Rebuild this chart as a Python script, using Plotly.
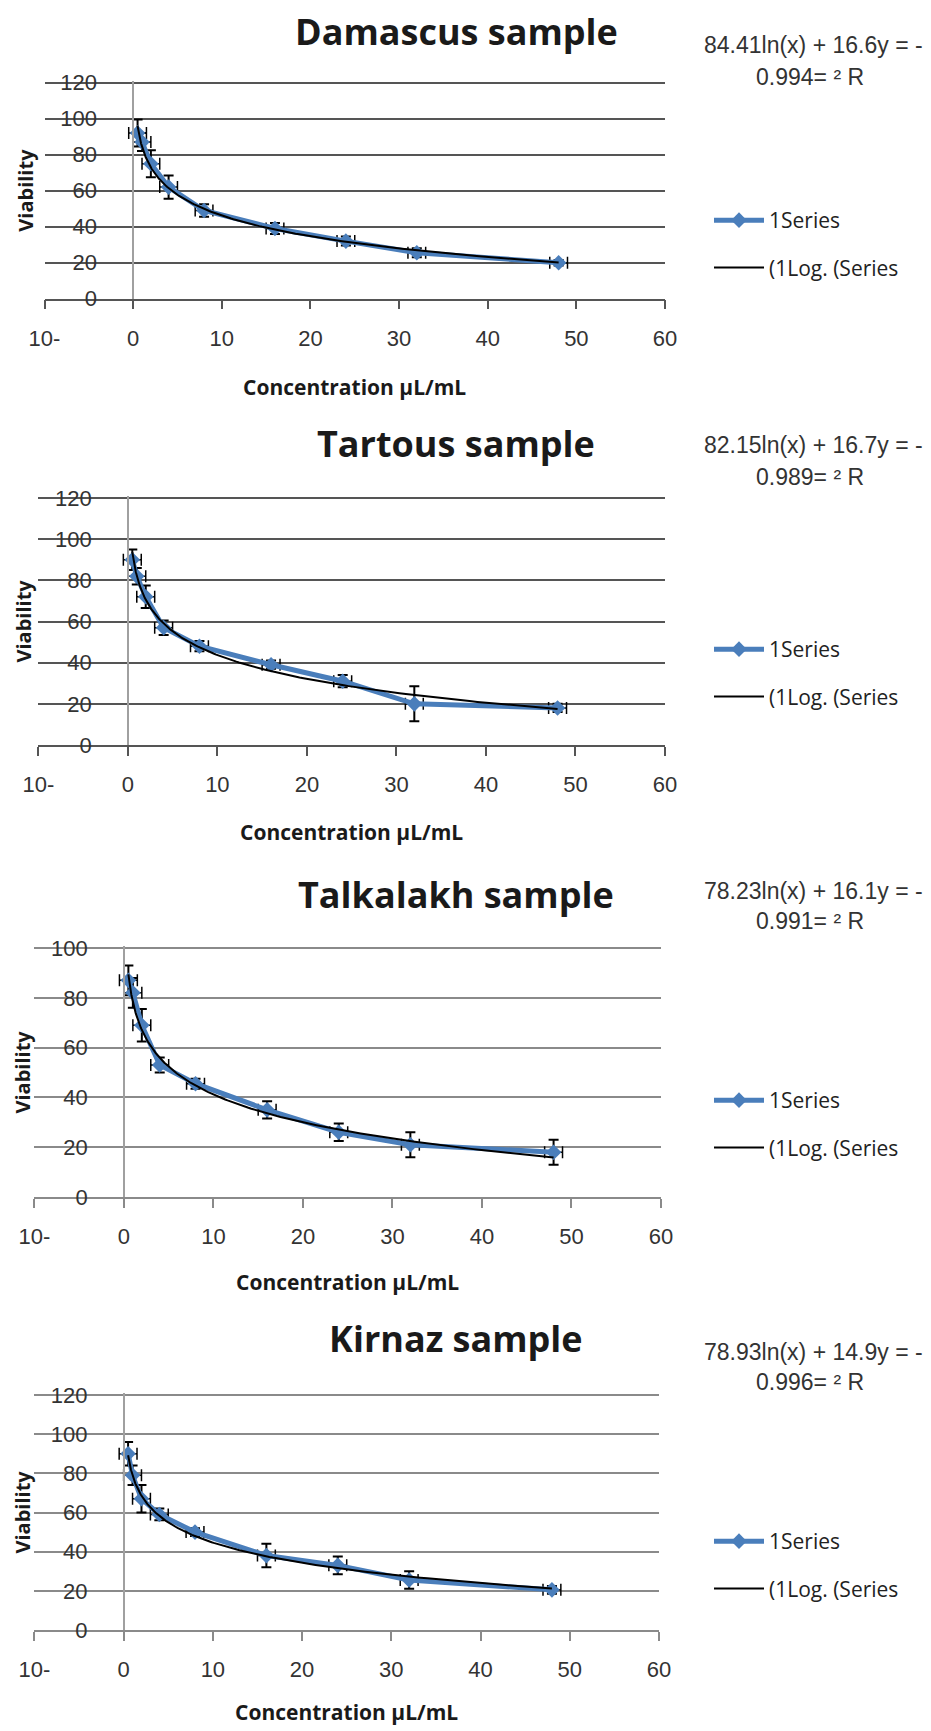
import numpy as np
import plotly.graph_objects as go

W, H = 931, 1731

# ---------------- data ----------------
concentration = [0.5, 1, 2, 4, 8, 16, 24, 32, 48]
concentration_err = [1, 1, 1, 1, 1, 1, 1, 1, 1]

sample_titles = ["Damascus sample", "Tartous sample", "Talkalakh sample", "Kirnaz sample"]

damascus_viability = [92, 87, 75, 62, 49, 39, 32, 25.5, 20]
damascus_err = [7.5, 5, 7.5, 6.5, 3.5, 3, 2.5, 2.5, 1.5]
tartous_viability = [90, 82, 72, 57, 48, 39, 31, 20, 18]
tartous_err = [5, 4, 5.5, 3.5, 2.5, 2, 3, 8.5, 2]
talkalakh_viability = [87, 82, 69, 53, 45.5, 35, 26, 21, 18]
talkalakh_err = [6, 6, 6.5, 3, 2, 3.5, 3.5, 5, 5]
kirnaz_viability = [90, 79, 67, 59, 50, 38, 33, 25.5, 20.5]
kirnaz_err = [6, 5, 7, 3, 2, 6, 4.5, 4.5, 2]

viability = [damascus_viability, tartous_viability, talkalakh_viability, kirnaz_viability]
viability_err = [damascus_err, tartous_err, talkalakh_err, kirnaz_err]

# logarithmic trendline coefficients shown on the chart: y = slope*ln(x) + intercept
trend_slope = [-16.6, -16.7, -16.1, -14.9]
trend_intercept = [84.41, 82.15, 78.23, 78.93]
equation_line1 = ["84.41ln(x) + 16.6y = -", "82.15ln(x) + 16.7y = -",
                  "78.23ln(x) + 16.1y = -", "78.93ln(x) + 14.9y = -"]
equation_line2 = ["0.994= ² R", "0.989= ² R", "0.991= ² R", "0.996= ² R"]

x_tickvals = [-10, 0, 10, 20, 30, 40, 50, 60]
x_ticktext = ["10-", "0", "10", "20", "30", "40", "50", "60"]
y_max = [120, 120, 100, 120]

series_name = "1Series"
trend_name = "(1Log. (Series"
x_title = "Concentration µL/mL"
y_title = "Viability"

# ---------------- layout (pixel boxes, page coordinates) ----------------
boxes = [
    dict(x0=44.5, x1=665, ytop=82.7, ybot=298.7, title_y=32, eq_y=(45, 77), leg_y=244, xt_y=387, vt_x=26),
    dict(x0=38.3, x1=665, ytop=498, ybot=745, title_y=444, eq_y=(445, 477), leg_y=673, xt_y=832, vt_x=23),
    dict(x0=34.4, x1=661, ytop=948, ybot=1197, title_y=894, eq_y=(891, 921), leg_y=1124, xt_y=1282, vt_x=22),
    dict(x0=34.4, x1=659, ytop=1395, ybot=1630, title_y=1338, eq_y=(1352, 1382), leg_y=1565, xt_y=1712, vt_x=22),
]
grid_colors = ["#555555", "#555555", "#8a8a8a", "#8a8a8a"]

BLUE = "#4a7ebb"
TICKFONT = dict(family="Liberation Sans, Arial", size=22, color="#333333")
EQFONT = dict(family="Liberation Sans, Arial", size=23, color="#333333")
OFF = 8  # page body margin around the figure

def px(x):
    return (x - OFF) / W

def py(y):
    return 1 - (y - OFF) / H

fig = go.Figure()
annotations = []
layout = dict(
    width=W, height=H,
    margin=dict(l=0, r=0, t=0, b=0, pad=0, autoexpand=False),
    paper_bgcolor="white", plot_bgcolor="white",
    showlegend=True,
)

for i in range(4):
    b = boxes[i]
    xa = "x" if i == 0 else f"x{i+1}"
    ya = "y" if i == 0 else f"y{i+1}"
    xk = "xaxis" if i == 0 else f"xaxis{i+1}"
    yk = "yaxis" if i == 0 else f"yaxis{i+1}"
    lk = "legend" if i == 0 else f"legend{i+1}"
    gc = grid_colors[i]

    fig.add_trace(go.Scatter(
        x=concentration, y=viability[i], xaxis=xa, yaxis=ya,
        mode="lines+markers", name=series_name,
        line=dict(color=BLUE, width=5),
        marker=dict(symbol="diamond", size=12, color=BLUE),
        error_y=dict(type="data", array=viability_err[i], color="black", thickness=2, width=5),
        error_x=dict(type="data", array=concentration_err, color="black", thickness=1.5, width=6),
        legend=lk, legendgroup=f"s{i}",
    ))
    xs = np.geomspace(concentration[0], concentration[-1], 200)
    fig.add_trace(go.Scatter(
        x=xs, y=trend_slope[i] * np.log(xs) + trend_intercept[i], xaxis=xa, yaxis=ya,
        mode="lines", name=trend_name,
        line=dict(color="black", width=2),
        legend=lk, legendgroup=f"t{i}",
    ))

    # extend the range a hair so the top grid line is drawn
    pad = 0.8
    unit = (b["ybot"] - b["ytop"]) / y_max[i]
    ytop_ext = b["ytop"] - pad * unit

    xdom = [px(b["x0"]), px(b["x1"])]
    layout[xk] = dict(
        domain=xdom, range=[-10, 60], anchor=ya, automargin=False,
        tickmode="array", tickvals=x_tickvals, ticktext=x_ticktext,
        showgrid=False, zeroline=False,
        showline=True, linecolor=gc, linewidth=1.5,
        ticks="outside", ticklen=9, tickwidth=1.5, tickcolor=gc,
        tickfont=TICKFONT, ticklabelstandoff=10,
    )
    layout[yk] = dict(
        domain=[py(b["ybot"]), py(ytop_ext)], range=[0, y_max[i] + pad],
        anchor="free", position=xdom[0] + (xdom[1] - xdom[0]) * 10 / 70, automargin=False,
        tick0=0, dtick=20, showgrid=True, gridcolor=gc, gridwidth=1.5,
        zeroline=False, showline=True, linecolor="#a0a0a0", linewidth=1.5,
        ticks="", tickfont=TICKFONT, ticklabelstandoff=31,
    )
    layout[lk] = dict(
        x=px(709), y=py(b["leg_y"]), xanchor="left", yanchor="middle",
        font=dict(family="Open Sans", size=21, color="#222222"),
        bgcolor="rgba(0,0,0,0)", tracegroupgap=17, itemwidth=50,
    )

    x0pix = b["x0"] + (b["x1"] - b["x0"]) * 10 / 70
    upx = (b["x1"] - b["x0"]) / 70
    annotations += [
        dict(text=f"<b>{sample_titles[i]}</b>", x=px(456), y=py(b["title_y"]),
             xref="paper", yref="paper", showarrow=False, xanchor="center", yanchor="middle",
             font=dict(family="Open Sans", size=36, color="#1a1a1a")),
        dict(text=equation_line1[i], x=px(813), y=py(b["eq_y"][0]),
             xref="paper", yref="paper", showarrow=False, xanchor="center", yanchor="middle",
             font=EQFONT),
        dict(text=equation_line2[i], x=px(810), y=py(b["eq_y"][1]),
             xref="paper", yref="paper", showarrow=False, xanchor="center", yanchor="middle",
             font=EQFONT),
        dict(text=f"<b>{x_title}</b>", x=px(x0pix + 25 * upx), y=py(b["xt_y"]),
             xref="paper", yref="paper", showarrow=False, xanchor="center", yanchor="middle",
             font=dict(family="Open Sans", size=21, color="#1a1a1a")),
        dict(text=f"<b>{y_title}</b>", x=px(b["vt_x"]), y=py((b["ytop"] + b["ybot"]) / 2),
             xref="paper", yref="paper", showarrow=False, xanchor="center", yanchor="middle",
             textangle=-90, font=dict(family="Open Sans", size=20, color="#1a1a1a")),
    ]

layout["annotations"] = annotations
fig.update_layout(**layout)
fig.write_html("out.html")
